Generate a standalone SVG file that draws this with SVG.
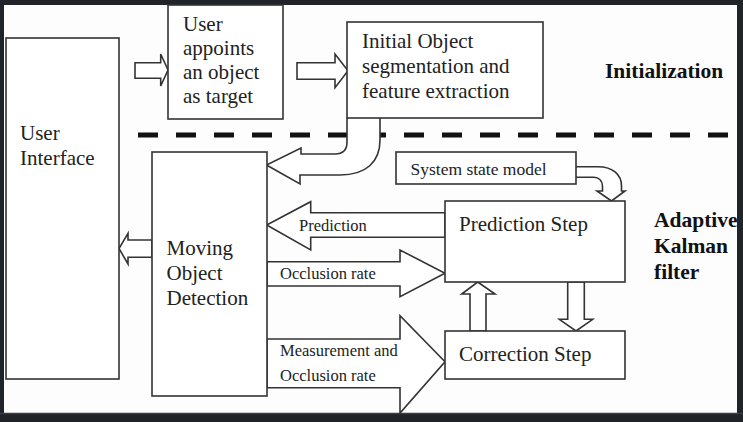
<svg xmlns="http://www.w3.org/2000/svg" width="743" height="422" viewBox="0 0 743 422">
<style>
.box{fill:#fff;stroke:#333;stroke-width:1.6}
.arr{fill:#fff;stroke:#333;stroke-width:1.6;stroke-linejoin:miter}
.t{font-family:"Liberation Serif","Times New Roman",serif;font-size:21px;fill:#222}
.s{font-family:"Liberation Serif","Times New Roman",serif;font-size:16.5px;fill:#222}
.b{font-family:"Liberation Serif","Times New Roman",serif;font-size:21.5px;font-weight:bold;fill:#111}
</style>
<rect x="0" y="0" width="743" height="422" fill="#202328"/>
<rect x="4" y="5" width="733" height="408" fill="#fdfdfd"/>
<line x1="0" y1="413.5" x2="743" y2="413.5" stroke="#3a3e44" stroke-width="1.5"/>
<line x1="138" y1="135" x2="730" y2="135" stroke="#111" stroke-width="5" stroke-dasharray="20 18"/>
<g id="connectors">
<polygon class="arr" points="135,62.7 160.7,62.7 160.7,54 168,70 160.7,86 160.7,78.3 135,78.3"/>
<polygon class="arr" points="297,62.7 335,62.7 335,54 348,70.7 335,87.7 335,79.3 297,79.3"/>
<path class="arr" d="M347,118 L347,142 Q347,154 335,154 L301,154 L301,148 L266.5,165 L300,184 L300,175 L340,175 C366,175 380,162 380,140 L380,118"/>
<path class="arr" d="M576,166.7 L598,166.7 C613,166.7 621.5,175 621.5,186 L621.5,191 L625,191 L611.5,201 L597,191 L602.5,191 L602.5,186 C602.5,181 599,177.3 594,177.3 L576,177.3"/>
<polygon class="arr" points="445,212.7 310.7,212.7 310.7,201.7 266.7,225 310.7,250 310.7,237.3 445,237.3"/>
<polygon class="arr" points="267,261.7 400,261.7 400,250 445,273.3 400,296.7 400,286 267,286"/>
<polygon class="arr" points="267,339 400,339 400,315.7 445,361.7 400,413 400,387.7 267,387.7"/>
<polygon class="arr" points="152,240 128,240 128,233.3 119,248.5 128,264 128,257.3 152,257.3"/>
<polygon class="arr" points="470,331 470,294 461.7,294 477.7,282 495,294 486,294 486,331"/>
<polygon class="arr" points="567.7,282 567.7,319.3 559.3,319.3 576,331 592.7,319.3 584.3,319.3 584.3,282"/>
<text class="s" x="299" y="231">Prediction</text>
<text class="s" x="280" y="279">Occlusion rate</text>
<text class="s" x="280" y="356">Measurement and</text>
<text class="s" x="280" y="381">Occlusion rate</text>
</g>
<g id="user-interface">
<rect class="box" x="6" y="38" width="113" height="341"/>
<text class="t" x="20" y="140">User</text>
<text class="t" x="20" y="165">Interface</text>
</g>
<g id="user-appoints">
<rect class="box" x="168" y="5" width="115" height="114"/>
<text class="t" x="183" y="31">User</text>
<text class="t" x="183" y="55">appoints</text>
<text class="t" x="183" y="79">an object</text>
<text class="t" x="183" y="103">as target</text>
</g>
<g id="initial-object">
<rect class="box" x="347" y="22" width="196" height="96"/>
<text class="t" x="362" y="48">Initial Object</text>
<text class="t" x="362" y="73">segmentation and</text>
<text class="t" x="362" y="98">feature extraction</text>
</g>
<g id="initialization-label">
<text class="b" x="605" y="78">Initialization</text>
</g>
<g id="moving-object-detection">
<rect class="box" x="152" y="152" width="115" height="244"/>
<text class="t" x="166.5" y="255">Moving</text>
<text class="t" x="166.5" y="280">Object</text>
<text class="t" x="166.5" y="305">Detection</text>
</g>
<g id="system-state-model">
<rect class="box" x="396" y="152" width="180" height="32"/>
<text class="t" x="410.5" y="175" style="font-size:17.5px">System state model</text>
</g>
<g id="prediction-step">
<rect class="box" x="445" y="201" width="180" height="81"/>
<text class="t" x="459" y="231">Prediction Step</text>
</g>
<g id="correction-step">
<rect class="box" x="445" y="331" width="180" height="48"/>
<text class="t" x="459" y="361">Correction Step</text>
</g>
<g id="kalman-label">
<text class="b" x="654" y="227">Adaptive</text>
<text class="b" x="654" y="253">Kalman</text>
<text class="b" x="654" y="279">filter</text>
</g>
</svg>
